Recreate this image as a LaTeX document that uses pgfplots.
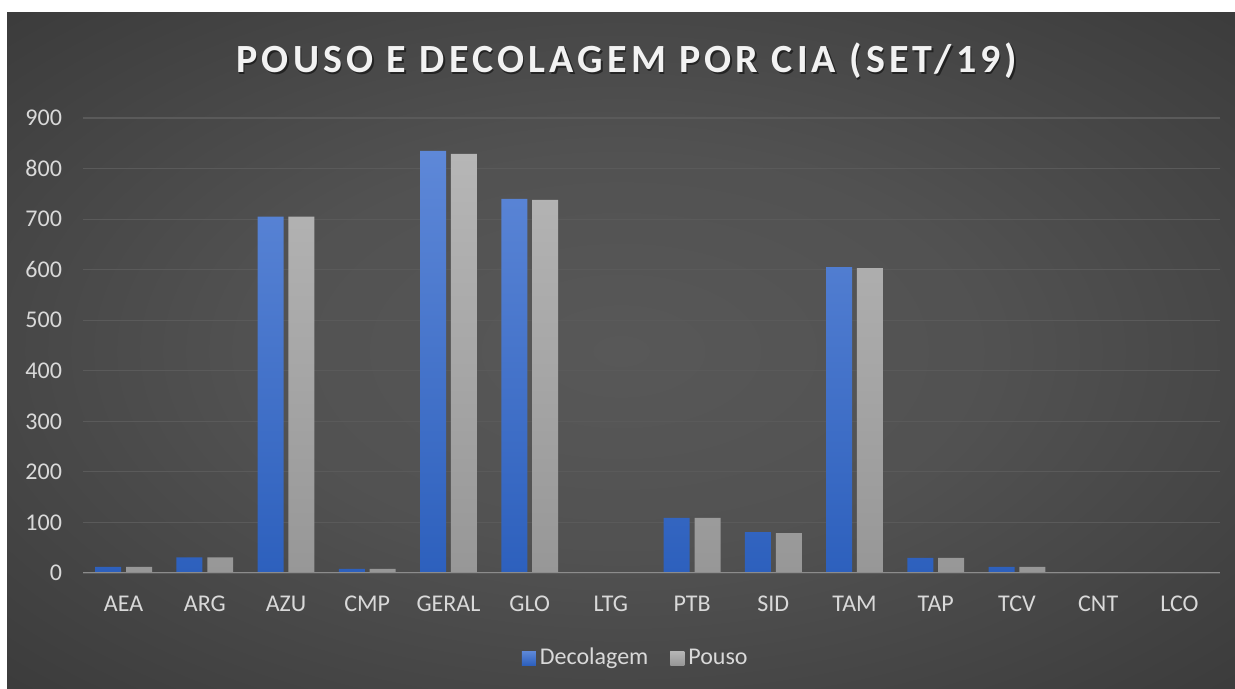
\documentclass[border=0pt]{standalone}
\usepackage{fontspec}
\setmainfont{Carlito}
\usepackage{pgfplots}
\pgfplotsset{compat=1.18}

\definecolor{bgA}{HTML}{585858}
\definecolor{bgB}{HTML}{2C2C2C}
\definecolor{bgC}{HTML}{252525}
\definecolor{gridC}{HTML}{5A5A5A}
\definecolor{baseC}{HTML}{8C8C8C}
\definecolor{txtC}{HTML}{D9D9D9}
\definecolor{blueTop}{HTML}{5E88D8}
\definecolor{blueBot}{HTML}{2D60BD}
\definecolor{greyTop}{HTML}{B6B6B6}
\definecolor{greyBot}{HTML}{979797}
\definecolor{blueLeg}{HTML}{4472C4}
\definecolor{greyLeg}{HTML}{A5A5A5}

\pgfdeclareradialshading{bgshade}{\pgfpoint{0bp}{0bp}}{%
  color(0bp)=(bgA); color(15bp)=(bgA!85!bgB); color(50bp)=(bgB); color(72bp)=(bgC)}

\pgfplotstableread{
x  cia    dec  pou
0  AEA    12   12
1  ARG    31   31
2  AZU    705  705
3  CMP    8    8
4  GERAL  835  829
5  GLO    740  738
6  LTG    1    1
7  PTB    109  109
8  SID    81   79
9  TAM    605  603
10 TAP    30   30
11 TCV    12   12
12 CNT    1    1
13 LCO    1    1
}\ciadata

\begin{document}
\begin{tikzpicture}
  % page and chart background (1px = 0.5pt)
  \fill[white] (0,0) rectangle (617.5pt,344.5pt);
  \shade[shading=bgshade] (3.5pt,0) rectangle (617.5pt,338pt);
  % title with soft shadow
  \node[font=\bfseries\fontsize{20}{24}\selectfont\addfontfeatures{LetterSpace=10.5}, text=black, opacity=0.5]
    at (314.2pt,313.3pt) {POUSO E DECOLAGEM POR CIA (SET/19)};
  \node[font=\bfseries\fontsize{20}{24}\selectfont\addfontfeatures{LetterSpace=10.5}, text=white!95!black]
    at (313.5pt,314pt) {POUSO E DECOLAGEM POR CIA (SET/19)};

  \begin{axis}[
    at={(41.5pt,58pt)}, anchor=south west,
    scale only axis, width=568.5pt, height=227.5pt,
    xmin=-0.5, xmax=13.5, ymin=0, ymax=900,
    ytick={0,100,...,900},
    xtick=data, xticklabels from table={\ciadata}{cia},
    axis line style={draw=none},
    major tick length=0pt,
    ymajorgrids, grid style={gridC, line width=0.6pt},
    tick label style={font=\fontsize{12}{14}\selectfont, text=txtC},
    /pgf/number format/assume math mode=true,
    yticklabel style={xshift=-7pt},
    xticklabel style={yshift=-8pt},
    ybar, bar width=0.32,
    legend style={at={(0.487,-0.187)}, anchor=center, draw=none, fill=none,
      text=txtC, font=\fontsize{12}{14}\selectfont, legend columns=2,
      /tikz/every even column/.append style={column sep=9pt}},
  ]
    \addplot[draw=none, bar shift=-0.19, top color=blueTop, bottom color=blueBot,
      legend image code/.code={\fill[blueLeg] (0pt,-3.5pt) rectangle (7pt,3.5pt);}]
      table[x=x, y=dec] {\ciadata};
    \addlegendentry{Decolagem}
    \addplot[draw=none, bar shift=0.19, top color=greyTop, bottom color=greyBot,
      legend image code/.code={\fill[greyLeg] (0pt,-3.5pt) rectangle (7pt,3.5pt);}]
      table[x=x, y=pou] {\ciadata};
    \addlegendentry{Pouso}
    \draw[baseC, line width=1pt] (axis cs:-0.5,0) -- (axis cs:13.5,0);
  \end{axis}
\end{tikzpicture}
\end{document}
